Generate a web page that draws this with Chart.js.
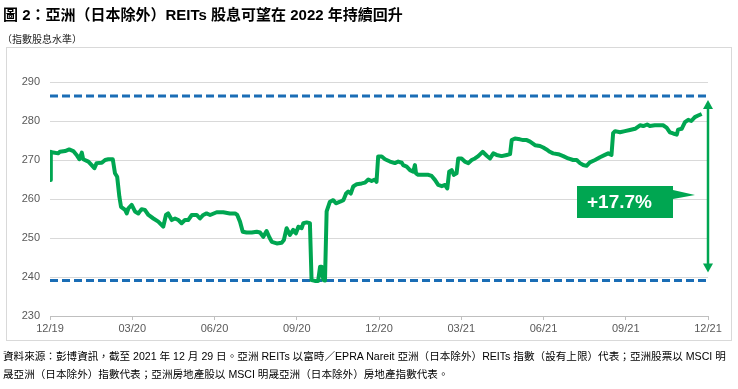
<!DOCTYPE html>
<html>
<head>
<meta charset="utf-8">
<script src="https://cdn.jsdelivr.net/npm/chart.js@4/dist/chart.umd.min.js"></script>
<style>
  body { margin: 0; background: #fff; }
  #wrap { position: relative; width: 738px; height: 389px; overflow: hidden; }
  #grafico { position: absolute; left: 0; top: 0; }
  .texto { position: absolute; white-space: nowrap; color: #000; font-family: "Liberation Sans", "Noto Sans CJK TC", sans-serif; }
  #titulo { left: 3px; top: 3px; font-size: 15px; font-weight: bold; }
  #subtitulo { left: 2px; top: 31px; font-size: 10px; color: #222; }
  #marco { position: absolute; left: 6px; top: 47px; width: 726px; height: 294px; border: 1px solid #d9d9d9; box-sizing: border-box; }
  #nota { left: 3px; top: 347px; font-size: 10.6px; line-height: 18px; }
</style>
</head>
<body>
<div id="wrap">
  <div id="marco"></div>
  <canvas id="grafico" width="738" height="389"></canvas>
  <div class="texto" id="titulo">圖 2：亞洲（日本除外）REITs 股息可望在 2022 年持續回升</div>
  <div class="texto" id="subtitulo">（指數股息水準）</div>
  <div class="texto" id="nota">資料來源：彭博資訊，截至 2021 年 12 月 29 日。亞洲 REITs 以富時／EPRA Nareit 亞洲（日本除外）REITs 指數（設有上限）代表；亞洲股票以 MSCI 明<br>晟亞洲（日本除外）指數代表；亞洲房地產股以 MSCI 明晟亞洲（日本除外）房地產指數代表。</div>
</div>
<script>
// Etiquetas del eje X (una por trimestre)
const etiquetasX = ['12/19', '03/20', '06/20', '09/20', '12/20', '03/21', '06/21', '09/21', '12/21'];

// Meses transcurridos desde 12/19
const meses = [
    0, 0.03, 0.12, 0.30, 0.36, 0.55, 0.70, 0.85, 0.97, 1.07, 1.16, 1.21, 1.40, 1.52, 1.62, 1.70, 1.89, 2.01, 2.13, 2.29,
    2.37, 2.45, 2.53, 2.59, 2.74, 2.80, 2.86, 2.98, 3.10, 3.22, 3.34, 3.46, 3.59, 3.77, 3.95, 4.13, 4.23, 4.31, 4.44, 4.56,
    4.68, 4.80, 4.92, 5.04, 5.17, 5.35, 5.47, 5.59, 5.71, 5.84, 6.08, 6.32, 6.56, 6.75, 6.83, 6.93, 7.03, 7.17, 7.36, 7.54,
    7.66, 7.78, 7.90, 8.00, 8.09, 8.27, 8.45, 8.53, 8.63, 8.75, 8.87, 8.97, 9.06, 9.18, 9.24, 9.36, 9.48, 9.54, 9.66, 9.78,
    9.85, 9.91, 9.97, 10.03, 10.09, 10.21, 10.33, 10.43, 10.58, 10.70, 10.80, 10.88, 10.97, 11.06, 11.19, 11.37, 11.49, 11.61, 11.73, 11.85,
    11.91, 11.97, 12.10, 12.22, 12.40, 12.58, 12.70, 12.83, 12.88, 13.01, 13.13, 13.25, 13.31, 13.35, 13.43, 13.61, 13.80, 13.92, 14.04, 14.16,
    14.29, 14.41, 14.49, 14.56, 14.65, 14.73, 14.83, 14.89, 15.01, 15.13, 15.26, 15.38, 15.50, 15.62, 15.78, 15.93, 16.05, 16.17, 16.29, 16.47,
    16.66, 16.78, 16.84, 16.96, 17.14, 17.26, 17.39, 17.51, 17.69, 17.87, 17.99, 18.11, 18.23, 18.35, 18.54, 18.72, 18.90, 19.08, 19.21, 19.33,
    19.45, 19.57, 19.69, 19.88, 20.06, 20.24, 20.36, 20.48, 20.54, 20.61, 20.79, 20.97, 21.15, 21.34, 21.52, 21.64, 21.78, 21.88, 22.06, 22.24,
    22.36, 22.49, 22.61, 22.73, 22.86, 22.91, 23.04, 23.16, 23.28, 23.39, 23.52, 23.64, 23.77
];

// Nivel de dividendos del índice
const nivelDividendo = [
    264.9, 272.1, 271.9, 271.7, 272.1, 272.3, 272.7, 272.3, 271.3, 270.2, 271.9, 270.2, 269.6, 268.7, 267.9, 269.2, 269.3, 270.0, 270.2, 270.2,
    266.6, 265.7, 260.6, 258.0, 257.2, 256.3, 257.6, 258.5, 256.8, 256.3, 257.4, 257.2, 255.9, 255.0, 254.2, 252.9, 255.9, 256.3, 254.6, 255.0,
    254.6, 253.8, 254.6, 254.6, 255.9, 255.9, 255.0, 255.9, 256.3, 255.9, 256.6, 256.6, 256.3, 256.3, 255.9, 254.2, 251.6, 251.4, 251.4, 251.6,
    251.4, 250.3, 251.8, 250.2, 249.0, 248.6, 248.8, 249.5, 252.5, 250.8, 252.1, 251.2, 252.9, 252.5, 253.8, 254.0, 253.8, 239.2, 239.0, 239.0,
    242.6, 242.6, 239.2, 239.1, 256.8, 259.3, 259.7, 258.9, 259.3, 259.7, 261.4, 261.9, 261.4, 263.2, 263.8, 264.0, 264.2, 265.0, 264.6, 265.0,
    264.4, 270.9, 270.9, 270.2, 269.6, 269.2, 269.6, 269.3, 268.7, 268.3, 267.4, 267.0, 268.7, 266.6, 266.2, 266.2, 266.2, 265.9, 264.9, 263.6,
    263.3, 263.6, 262.7, 267.0, 267.4, 266.2, 266.6, 270.4, 270.4, 269.6, 269.2, 270.0, 270.4, 271.0, 272.1, 271.1, 270.4, 271.7, 271.3, 271.0,
    271.3, 271.5, 275.1, 275.5, 275.3, 275.1, 275.1, 274.7, 273.8, 273.6, 273.2, 272.7, 272.1, 271.7, 271.5, 271.0, 270.4, 270.0, 270.0, 269.2,
    268.7, 268.5, 269.4, 270.0, 270.7, 271.3, 271.7, 271.3, 276.9, 277.4, 277.1, 277.4, 277.7, 278.0, 278.9, 278.7, 279.1, 278.7, 278.9, 278.9,
    278.9, 278.3, 277.1, 276.8, 276.5, 277.8, 278.0, 279.7, 280.3, 280.0, 281.0, 281.4, 281.8
];

// Niveles de referencia (líneas discontinuas) y anotación
const nivelSuperior = 286.4;
const nivelInferior = 239.1;
const textoCrecimiento = '+17.7%';
const nivelEtiqueta = 259.2;

const verde = '#00a651';
const azul = '#1a6db5';

// Dibuja la flecha doble y la etiqueta de crecimiento
const anotacionCrecimiento = {
    id: 'anotacionCrecimiento',
    afterDatasetsDraw(chart) {
        const ctx = chart.ctx;
        const x = chart.scales.x;
        const y = chart.scales.y;
        const ax = x.getPixelForValue(x.max);
        const arriba = y.getPixelForValue(nivelSuperior) + 4;
        const abajo = y.getPixelForValue(nivelInferior) - 8;

        ctx.save();
        ctx.strokeStyle = verde;
        ctx.fillStyle = verde;
        ctx.lineWidth = 2.5;
        ctx.beginPath();
        ctx.moveTo(ax, arriba + 6);
        ctx.lineTo(ax, abajo - 6);
        ctx.stroke();
        // puntas de flecha
        ctx.beginPath();
        ctx.moveTo(ax, arriba);
        ctx.lineTo(ax - 5, arriba + 9);
        ctx.lineTo(ax + 5, arriba + 9);
        ctx.closePath();
        ctx.fill();
        ctx.beginPath();
        ctx.moveTo(ax, abajo);
        ctx.lineTo(ax - 5, abajo - 9);
        ctx.lineTo(ax + 5, abajo - 9);
        ctx.closePath();
        ctx.fill();

        // caja con la etiqueta
        const cy = y.getPixelForValue(nivelEtiqueta);
        const der = ax - 35;
        const izq = der - 96;
        const sup = cy - 16;
        ctx.beginPath();
        ctx.moveTo(izq, sup);
        ctx.lineTo(der, sup);
        ctx.lineTo(der, sup + 4);
        ctx.lineTo(ax - 13, sup + 9);
        ctx.lineTo(der, sup + 13);
        ctx.lineTo(der, sup + 32);
        ctx.lineTo(izq, sup + 32);
        ctx.closePath();
        ctx.fill();
        ctx.fillStyle = '#fff';
        ctx.font = 'bold 19px "Liberation Sans", Arial, sans-serif';
        ctx.textBaseline = 'middle';
        ctx.fillText(textoCrecimiento, izq + 10, cy + 1);
        ctx.restore();
    }
};

const ctxGrafico = document.getElementById('grafico').getContext('2d');
new Chart(ctxGrafico, {
    type: 'line',
    data: {
        datasets: [{
            data: meses.map((m, i) => ({ x: m, y: nivelDividendo[i] })),
            borderColor: verde,
            borderWidth: 4,
            borderJoinStyle: 'round',
            pointRadius: 0,
            tension: 0
        }, {
            data: [{ x: 0, y: nivelSuperior }, { x: 24, y: nivelSuperior }],
            borderColor: azul,
            borderWidth: 3,
            borderDash: [8, 4],
            pointRadius: 0
        }, {
            data: [{ x: 0, y: nivelInferior }, { x: 24, y: nivelInferior }],
            borderColor: azul,
            borderWidth: 3,
            borderDash: [8, 4],
            pointRadius: 0
        }]
    },
    options: {
        responsive: false,
        animation: false,
        layout: { padding: { left: 0, right: 30, top: 82, bottom: 0 } },
        plugins: {
            legend: { display: false },
            tooltip: { enabled: false }
        },
        scales: {
            x: {
                type: 'linear',
                min: 0,
                max: 24,
                afterFit: s => { s.height = 73; },
                ticks: {
                    stepSize: 3,
                    autoSkip: false,
                    maxRotation: 0,
                    padding: 2,
                    color: '#595959',
                    font: { family: '"Liberation Sans", Arial, sans-serif', size: 11 },
                    callback: v => etiquetasX[v / 3]
                },
                grid: { drawOnChartArea: false, tickLength: 4, color: '#bfbfbf' },
                border: { color: '#bfbfbf' }
            },
            y: {
                min: 230,
                max: 290,
                afterFit: s => { s.width = 50; },
                ticks: {
                    stepSize: 10,
                    padding: 10,
                    color: '#595959',
                    font: { family: '"Liberation Sans", Arial, sans-serif', size: 11 }
                },
                grid: { color: '#d9d9d9', drawTicks: false },
                border: { display: false }
            }
        }
    },
    plugins: [anotacionCrecimiento]
});
</script>
</body>
</html>
